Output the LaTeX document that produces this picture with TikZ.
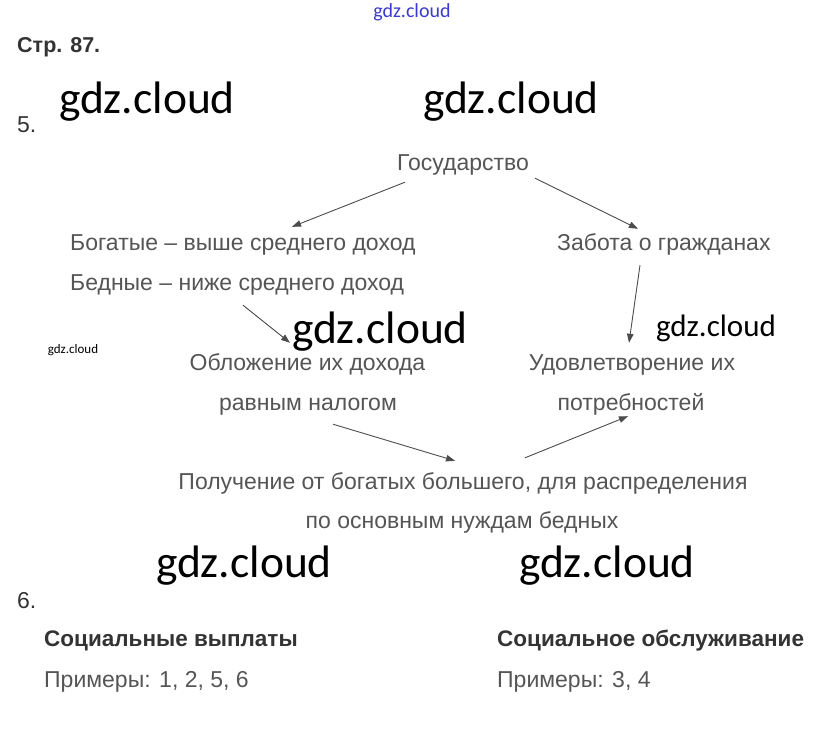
\documentclass[tikz,border=0pt]{standalone}
\usepackage{fontspec}
\setmainfont{Liberation Sans}
\newfontfamily\wmfont{Carlito}
\usetikzlibrary{arrows.meta}
\definecolor{ink}{HTML}{555555}
\definecolor{head}{HTML}{333333}
\definecolor{wmblue}{HTML}{3A3AD0}

\begin{document}
\begin{tikzpicture}[x=1pt, y=-1pt, every node/.style={inner sep=0pt, text=ink, font=\fontsize{23}{26}\selectfont}, txt/.style={text height=17pt, text depth=5pt}, hd/.style={txt, anchor=base west, text=head}, bhd/.style={hd, font=\bfseries\fontsize{22.5}{26}\selectfont}, wm/.style={anchor=center, text=black, font=\wmfont\fontsize{45.5}{50}\selectfont}, arr/.style={-{Triangle[length=9pt, width=6.5pt]}, draw=ink!90!black, line width=0.9pt}]
\fill[white] (0,0) rectangle (822,754);
\useasboundingbox (0,0) rectangle (822,754);
% headings and task numbers
\node[bhd, font=\bfseries\fontsize{21.5}{24}\selectfont] (page) at (17,53) {Стр. 87.};
\node[hd] (five) at (17,133) {5.};
\node[hd] (six) at (17,608) {6.};
% scheme for task 5
\node[txt, anchor=base] (gos) at (463,171) {Государство};
\node[txt, anchor=base west] (rich) at (70,251) {Богатые – выше среднего доход};
\node[txt, anchor=base west] (poor) at (70,290) {Бедные – ниже среднего доход};
\node[txt, anchor=base west] (care) at (557,251) {Забота о гражданах};
\node[txt, anchor=base] (tax) at (307.5,370) {Обложение их дохода};
\node[txt, anchor=base] (taxb) at (308,410) {равным налогом};
\node[txt, anchor=base] (need) at (632,370) {Удовлетворение их};
\node[txt, anchor=base] (needb) at (631,410) {потребностей};
\node[txt, anchor=base] (get) at (463,489) {Получение от богатых большего, для распределения};
\node[txt, anchor=base] (getb) at (462,528) {по основным нуждам бедных};
\draw[arr] ([shift={(-58,6)}]gos.south) -- ([shift={(222,-7)}]rich.north west);
\draw[arr] ([shift={(72,2)}]gos.south) -- ([shift={(81,-5)}]care.north west);
\draw[arr] ([shift={(173,10)}]poor.south west) -- ([shift={(-17.5,-10)}]tax.north);
\draw[arr] ([shift={(83,9)}]care.south west) -- ([shift={(-3,-10)}]need.north);
\draw[arr] ([shift={(25,9)}]taxb.south) -- ([shift={(-8,-11)}]get.north);
\draw[arr] ([shift={(62,-14)}]get.north) -- ([shift={(-3,1)}]needb.south);
% task 6
\node[bhd] (pay) at (44,646) {Социальные выплаты};
\node[txt, anchor=base west] (payex) at (44,687) {Примеры: 1, 2, 5, 6};
\node[bhd] (serv) at (497,646) {Социальное обслуживание};
\node[txt, anchor=base west] (servex) at (497,687) {Примеры: 3, 4};
% watermarks
\node[wm, text=wmblue, font=\wmfont\fontsize{20}{22}\selectfont] (wm0) at (412,12) {gdz.cloud};
\node[wm] (wm1) at (147,102) {gdz.cloud};
\node[wm] (wm2) at (511,102) {gdz.cloud};
\node[wm] (wm3) at (380,332) {gdz.cloud};
\node[wm, font=\wmfont\fontsize{31}{34}\selectfont] (wm4) at (716,328) {gdz.cloud};
\node[wm, font=\wmfont\fontsize{13}{15}\selectfont] (wm5) at (73,350) {gdz.cloud};
\node[wm] (wm6) at (244,566) {gdz.cloud};
\node[wm] (wm7) at (607,566) {gdz.cloud};
\end{tikzpicture}
\end{document}
